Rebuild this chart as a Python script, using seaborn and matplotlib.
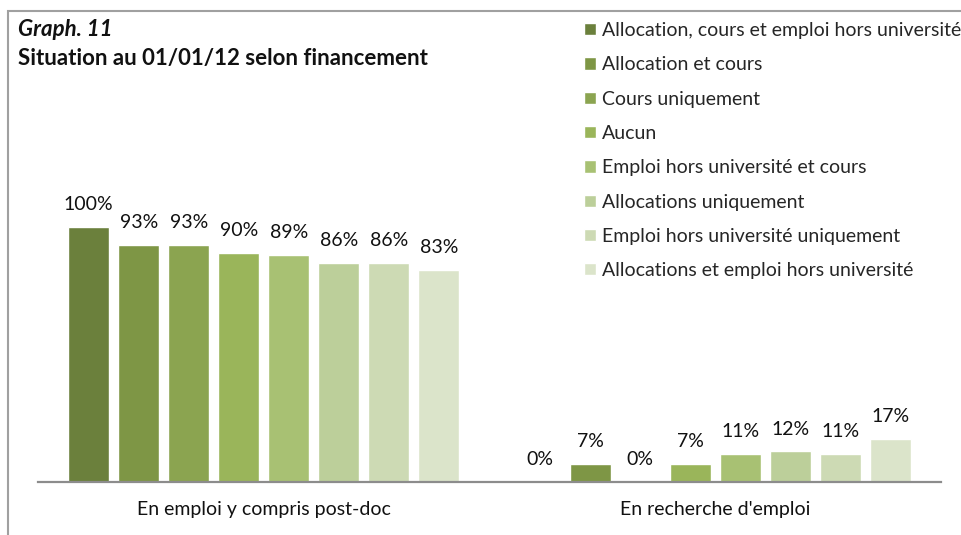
import matplotlib
matplotlib.use("Agg")
import matplotlib.pyplot as plt
from matplotlib.patches import Rectangle
import pandas as pd
import seaborn as sns

situations = ["En emploi y compris post-doc", "En recherche d'emploi"]
financements = [
    "Allocation, cours et emploi hors université",
    "Allocation et cours",
    "Cours uniquement",
    "Aucun",
    "Emploi hors université et cours",
    "Allocations uniquement",
    "Emploi hors université uniquement",
    "Allocations et emploi hors université",
]
en_emploi = [1.00, 0.93, 0.93, 0.90, 0.89, 0.86, 0.86, 0.83]
en_recherche = [0.00, 0.07, 0.00, 0.07, 0.11, 0.12, 0.11, 0.17]
couleurs = ["#6b803c", "#7e9645", "#8ba450", "#9ab55a",
            "#a8c173", "#bccf9a", "#cddab4", "#dbe4ca"]

rows = []
for f, a, b in zip(financements, en_emploi, en_recherche):
    rows.append({"situation": situations[0], "financement": f, "part": a})
    rows.append({"situation": situations[1], "financement": f, "part": b})
df = pd.DataFrame(rows)

sns.set_theme(style="white")
plt.rcParams["font.family"] = ["Lato", "DejaVu Sans"]
fs = 14

fig = plt.figure(figsize=(9.61, 5.35), dpi=100)
ax = fig.add_axes([38 / 961, 1 - 482 / 535, (941 - 38) / 961, (482 - 100) / 535])

sns.barplot(data=df, x="situation", y="part", hue="financement",
            hue_order=financements, order=situations, palette=couleurs,
            saturation=1, width=0.886, gap=0.18, ax=ax)

for cont in ax.containers:
    ax.bar_label(cont, labels=["{:.0f}%".format(v * 100) for v in cont.datavalues],
                 padding=10, fontsize=fs, color="#111111")

ax.set_ylim(0, 382 / 255)
ax.set_xlim(-0.5, 1.5)
ax.set_xlabel("")
ax.set_ylabel("")
ax.set_yticks([])
ax.tick_params(axis="x", length=0, pad=14, labelsize=fs, labelcolor="#111111")
for s in ["top", "left", "right"]:
    ax.spines[s].set_visible(False)
ax.spines["bottom"].set_color("#8c8c8c")
ax.spines["bottom"].set_linewidth(1.6)

handles, labels = ax.get_legend_handles_labels()
ax.legend_.remove()
fig.legend(handles, labels, loc="upper left", bbox_to_anchor=(584 / 961, 1 - 22 / 535),
           frameon=False, fontsize=fs, handlelength=0.6, handleheight=0.6,
           handletextpad=0.31, labelspacing=0.89, borderaxespad=0, borderpad=0)

fig.text(18 / 961, 1 - 30 / 535, "Graph. 11", fontsize=16, fontweight="bold",
         fontstyle="italic", va="center", color="#111111")
fig.text(18 / 961, 1 - 59 / 535, "Situation au 01/01/12 selon financement",
         fontsize=16, fontweight="bold", va="center", color="#111111")

fig.patches.append(Rectangle((8 / 961, -0.1), 1.2, 1.1 - 11 / 535,
                             transform=fig.transFigure, fill=False,
                             edgecolor="#a0a0a0", linewidth=1.5))

fig.savefig("out.png", dpi=100)
